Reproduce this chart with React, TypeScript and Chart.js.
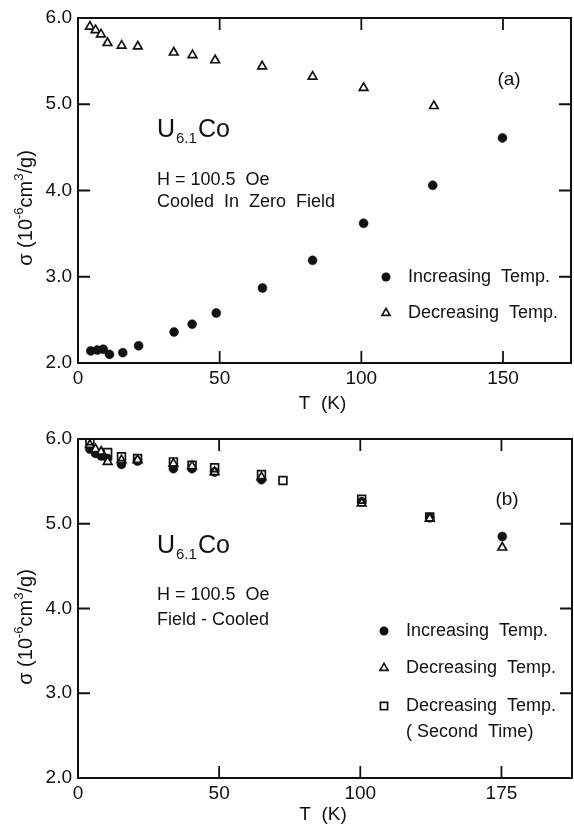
import React, { useEffect, useRef } from "react";
import { Chart, registerables } from "chart.js";

Chart.register(...registerables);

const FONT = "'Liberation Sans', Arial, sans-serif";
const INK = "#111111";
const TEXT_SIZE = 18;

// Shared axis ticks
const yTickValues = [2, 3, 4, 5, 6];
const xTickValues = [0, 50, 100, 150];
const xTickLabelsA = ["0", "50", "100", "150"];
const xTickLabelsB = ["0", "50", "100", "175"];

// (a) cooled in zero field
const zfcIncT = [4.5, 6.8, 8.9, 11.1, 15.8, 21.4, 33.9, 40.3, 48.8, 65.1, 82.8, 100.8, 125.2, 149.8];
const zfcIncSigma = [2.14, 2.15, 2.16, 2.1, 2.12, 2.2, 2.36, 2.45, 2.58, 2.87, 3.19, 3.62, 4.06, 4.61];
const zfcDecT = [4.2, 6.2, 8.1, 10.4, 15.4, 21.1, 33.8, 40.4, 48.4, 65.0, 82.8, 100.8, 125.6];
const zfcDecSigma = [5.9, 5.86, 5.81, 5.71, 5.68, 5.67, 5.6, 5.57, 5.51, 5.44, 5.32, 5.19, 4.98];

// (b) field-cooled
const fcIncT = [4.2, 6.2, 8.2, 10.5, 15.4, 21.1, 33.8, 40.4, 48.4, 65.0, 100.5, 124.6, 150.3];
const fcIncSigma = [5.88, 5.83, 5.8, 5.77, 5.7, 5.74, 5.65, 5.65, 5.61, 5.52, 5.26, 5.07, 4.85];
const fcDecT = [4.2, 6.2, 8.2, 10.5, 15.4, 21.1, 33.8, 40.4, 48.4, 65.0, 100.5, 124.6, 150.3];
const fcDecSigma = [5.93, 5.88, 5.85, 5.73, 5.75, 5.75, 5.71, 5.68, 5.61, 5.55, 5.24, 5.06, 4.72];
const fcDec2T = [4.2, 10.5, 15.4, 21.1, 33.8, 40.4, 48.4, 65.0, 72.6, 100.5, 124.6];
const fcDec2Sigma = [5.98, 5.84, 5.79, 5.77, 5.73, 5.69, 5.66, 5.58, 5.51, 5.29, 5.08];

const legendA = ["Increasing  Temp.", "Decreasing  Temp."];
const legendB = ["Increasing  Temp.", "Decreasing  Temp.", "Decreasing  Temp.", "( Second  Time)"];

type Marker = "circle" | "triangle" | "rect";

const toPoints = (xs: number[], ys: number[]) => xs.map((x, i) => ({ x, y: ys[i] }));

function markerDataset(label: string, xs: number[], ys: number[], marker: Marker, order: number) {
  const base: any = {
    label,
    data: toPoints(xs, ys),
    showLine: false,
    pointStyle: marker,
    borderColor: INK,
    pointBorderWidth: 1.7,
    order,
  };
  if (marker === "circle") {
    base.pointRadius = 4.5;
    base.pointBackgroundColor = INK;
    base.pointBorderWidth = 0.5;
  } else if (marker === "triangle") {
    base.pointRadius = 5;
    base.pointBackgroundColor = "#ffffff";
  } else {
    base.pointRadius = 5.5;
    base.pointBackgroundColor = "rgba(0,0,0,0)";
  }
  return base;
}

function drawMarker(ctx: CanvasRenderingContext2D, marker: Marker, x: number, y: number) {
  ctx.save();
  ctx.strokeStyle = INK;
  ctx.fillStyle = INK;
  ctx.lineWidth = 1.7;
  ctx.beginPath();
  if (marker === "circle") {
    ctx.arc(x, y, 4.5, 0, Math.PI * 2);
    ctx.fill();
  } else if (marker === "triangle") {
    const r = 4.6;
    for (let k = 0; k < 3; k++) {
      const a = (k * 2 * Math.PI) / 3;
      const px = x + Math.sin(a) * r;
      const py = y - Math.cos(a) * r;
      if (k === 0) ctx.moveTo(px, py);
      else ctx.lineTo(px, py);
    }
    ctx.closePath();
    ctx.stroke();
  } else {
    ctx.rect(x - 3.6, y - 3.6, 7.2, 7.2);
    ctx.stroke();
  }
  ctx.restore();
}

function drawText(ctx: CanvasRenderingContext2D, text: string, x: number, y: number, size: number, align: CanvasTextAlign = "left", baseline: CanvasTextBaseline = "alphabetic") {
  ctx.font = `${size}px ${FONT}`;
  ctx.textAlign = align;
  ctx.textBaseline = baseline;
  ctx.fillText(text, x, y);
  return ctx.measureText(text).width;
}

function drawFormula(ctx: CanvasRenderingContext2D, x: number, y: number) {
  ctx.save();
  ctx.fillStyle = INK;
  let cx = x;
  cx += drawText(ctx, "U", cx, y, 25);
  cx += 1;
  cx += drawText(ctx, "6.1", cx, y + 6, 15);
  cx += 1;
  drawText(ctx, "Co", cx, y, 25);
  ctx.restore();
}

function drawYTitle(ctx: CanvasRenderingContext2D, cx: number, cy: number) {
  const parts: { t: string; size: number; dy: number }[] = [
    { t: "σ (10", size: 20, dy: 0 },
    { t: "-6", size: 13, dy: -9 },
    { t: "cm", size: 20, dy: 0 },
    { t: "3", size: 13, dy: -9 },
    { t: "/g)", size: 20, dy: 0 },
  ];
  ctx.save();
  ctx.fillStyle = INK;
  ctx.translate(cx, cy);
  ctx.rotate(-Math.PI / 2);
  let total = 0;
  parts.forEach((p) => {
    ctx.font = `${p.size}px ${FONT}`;
    total += ctx.measureText(p.t).width;
  });
  let px = -total / 2;
  parts.forEach((p) => {
    px += drawText(ctx, p.t, px, p.dy + 7, p.size);
  });
  ctx.restore();
}

interface PanelSpec {
  xMax: number;
  xLabels: string[];
  top: number;
  right: number;
  datasets: any[];
  decorate: (ctx: CanvasRenderingContext2D) => void;
  xTitleY: number;
  yTitleY: number;
}

function buildConfig(spec: PanelSpec): any {
  const framePlugin = {
    id: "frameAndTicks",
    beforeDatasetsDraw(chart: any) {
      const { ctx, chartArea: a, scales } = chart;
      ctx.save();
      ctx.strokeStyle = INK;
      ctx.lineWidth = 2;
      ctx.strokeRect(a.left, a.top, a.right - a.left, a.bottom - a.top);
      ctx.lineWidth = 1.8;
      const len = 12;
      ctx.beginPath();
      yTickValues.forEach((v) => {
        const py = scales.y.getPixelForValue(v);
        ctx.moveTo(a.left, py);
        ctx.lineTo(a.left + len, py);
        ctx.moveTo(a.right, py);
        ctx.lineTo(a.right - len, py);
      });
      xTickValues.forEach((v) => {
        const px = scales.x.getPixelForValue(v);
        ctx.moveTo(px, a.bottom);
        ctx.lineTo(px, a.bottom - len);
        ctx.moveTo(px, a.top);
        ctx.lineTo(px, a.top + len);
      });
      ctx.stroke();
      ctx.restore();
    },
    afterDraw(chart: any) {
      const { ctx, chartArea: a } = chart;
      ctx.save();
      ctx.fillStyle = INK;
      drawText(ctx, "T  (K)", (a.left + a.right) / 2 - 2, spec.xTitleY, 19, "center", "middle");
      drawYTitle(ctx, 25, spec.yTitleY);
      spec.decorate(ctx);
      ctx.restore();
    },
  };

  const tickFont = { family: FONT, size: 19 };
  return {
    type: "scatter",
    data: { datasets: spec.datasets },
    options: {
      responsive: false,
      animation: false,
      events: [],
      layout: { autoPadding: false, padding: { left: 0, right: 574 - spec.right, top: spec.top, bottom: 0 } },
      plugins: { legend: { display: false }, tooltip: { enabled: false } },
      scales: {
        x: {
          type: "linear",
          min: 0,
          max: spec.xMax,
          afterBuildTicks: (s: any) => {
            s.ticks = xTickValues.map((v) => ({ value: v }));
          },
          ticks: {
            autoSkip: false,
            maxRotation: 0,
            padding: 4,
            color: INK,
            font: tickFont,
            callback: (v: number) => spec.xLabels[xTickValues.indexOf(v)] ?? "",
          },
          grid: { display: false, drawTicks: false },
          border: { display: false },
          afterFit: (s: any) => {
            s.height = 52;
          },
        },
        y: {
          type: "linear",
          min: 2,
          max: 6,
          afterBuildTicks: (s: any) => {
            s.ticks = yTickValues.map((v) => ({ value: v }));
          },
          ticks: {
            padding: 6,
            color: INK,
            font: tickFont,
            callback: (v: number) => v.toFixed(1),
          },
          grid: { display: false, drawTicks: false },
          border: { display: false },
          afterFit: (s: any) => {
            s.width = 78;
          },
        },
      },
    },
    plugins: [framePlugin],
  };
}

const panelA: PanelSpec = {
  xMax: 174,
  xLabels: xTickLabelsA,
  top: 18,
  right: 571,
  xTitleY: 404,
  yTitleY: 208,
  datasets: [
    markerDataset("Decreasing Temp.", zfcDecT, zfcDecSigma, "triangle", 0),
    markerDataset("Increasing Temp.", zfcIncT, zfcIncSigma, "circle", 1),
  ],
  decorate: (ctx) => {
    drawFormula(ctx, 157, 137);
    drawText(ctx, "H = 100.5  Oe", 157, 185, TEXT_SIZE);
    drawText(ctx, "Cooled  In  Zero  Field", 157, 207, TEXT_SIZE);
    drawText(ctx, "(a)", 509, 80, 19, "center", "middle");
    drawMarker(ctx, "circle", 386, 277);
    drawText(ctx, legendA[0], 408, 277, TEXT_SIZE, "left", "middle");
    drawMarker(ctx, "triangle", 386, 313);
    drawText(ctx, legendA[1], 408, 313, TEXT_SIZE, "left", "middle");
  },
};

const panelB: PanelSpec = {
  xMax: 175,
  xLabels: xTickLabelsB,
  top: 24,
  right: 572,
  xTitleY: 400,
  yTitleY: 212,
  datasets: [
    markerDataset("Decreasing Temp. (Second Time)", fcDec2T, fcDec2Sigma, "rect", 0),
    markerDataset("Decreasing Temp.", fcDecT, fcDecSigma, "triangle", 1),
    markerDataset("Increasing Temp.", fcIncT, fcIncSigma, "circle", 2),
  ],
  decorate: (ctx) => {
    drawFormula(ctx, 157, 138);
    drawText(ctx, "H = 100.5  Oe", 157, 185, TEXT_SIZE);
    drawText(ctx, "Field - Cooled", 157, 210, TEXT_SIZE);
    drawText(ctx, "(b)", 507, 85, 19, "center", "middle");
    drawMarker(ctx, "circle", 384, 216);
    drawText(ctx, legendB[0], 406, 216, TEXT_SIZE, "left", "middle");
    drawMarker(ctx, "triangle", 384, 253);
    drawText(ctx, legendB[1], 406, 253, TEXT_SIZE, "left", "middle");
    drawMarker(ctx, "rect", 384, 291);
    drawText(ctx, legendB[2], 406, 291, TEXT_SIZE, "left", "middle");
    drawText(ctx, legendB[3], 406, 317, TEXT_SIZE, "left", "middle");
  },
};

function Panel({ spec }: { spec: PanelSpec }) {
  const ref = useRef<HTMLCanvasElement | null>(null);
  useEffect(() => {
    if (!ref.current) return;
    const chart = new Chart(ref.current, buildConfig(spec));
    return () => chart.destroy();
  }, [spec]);
  return <canvas ref={ref} width={574} height={415} style={{ display: "block", width: 574, height: 415 }} />;
}

export default function App() {
  return (
    <div style={{ position: "absolute", left: 0, top: 0, width: 574, height: 830, background: "#ffffff" }}>
      <Panel spec={panelA} />
      <Panel spec={panelB} />
    </div>
  );
}
